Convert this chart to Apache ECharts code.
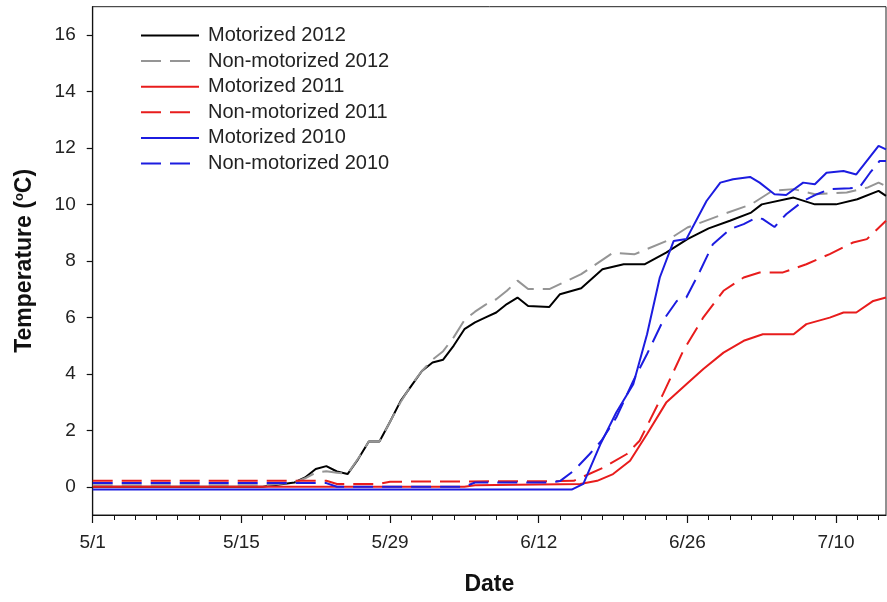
<!DOCTYPE html>
<html>
<head>
<meta charset="utf-8">
<script src="https://cdn.jsdelivr.net/npm/echarts@6/dist/echarts.min.js"></script>
<style>html,body{margin:0;padding:0;background:#fff}#c{width:887px;height:602px}</style>
</head>
<body>
<div id="c"></div>
<script>
// x = days since 5/1
const tickDays = [0, 14, 28, 42, 56, 70];
const tickLabels = ['5/1', '5/15', '5/29', '6/12', '6/26', '7/10'];
const minorTickDays = [0,2,4,6,8,10,12,14,16,18,20,22,24,26,28,30,32,34,36,38,40,42,44,46,48,50,52,54,56,58,60,62,64,66,68,70,72,74];
const yTicks = [0, 2, 4, 6, 8, 10, 12, 14, 16];

const m2012Days = [0,16,19,20,21,22,23,24,25,26,27,28,29,30,31,32,33,34,35,36,37,38,39,40,41,43,44,46,48,50,52,54,56,58,60,62,63,66,68,70,72,74,74.7];
const m2012Vals = [0,0,0.15,0.33,0.63,0.73,0.54,0.45,0.98,1.6,1.6,2.3,3.04,3.57,4.1,4.4,4.5,5.0,5.58,5.82,6.0,6.17,6.47,6.7,6.4,6.37,6.82,7.03,7.7,7.88,7.88,8.29,8.77,9.15,9.42,9.71,10.0,10.24,10.0,10.0,10.18,10.48,10.3];

const n2012Days = [0,16,19,20,21,22,23,24,25,26,27,28,29,30,31,32,33,34,35,36,37,38,39,40,41,43,46,49,51,54,56,59,62,64,66,68,71,73,74,74.7];
const n2012Vals = [0.05,0.05,0.15,0.3,0.5,0.55,0.5,0.45,1.0,1.6,1.6,2.3,3.0,3.6,4.1,4.5,4.8,5.3,5.9,6.2,6.45,6.64,6.94,7.3,7.0,7.0,7.53,8.29,8.23,8.7,9.18,9.6,10.0,10.48,10.54,10.36,10.42,10.6,10.77,10.65];

const m2011Days = [0,35,36,45.9,47.5,49,50.6,52.2,54,55.9,57.5,59.4,61.3,63.1,66,67.2,69.4,70.7,71.9,73.5,74.7];
const m2011Vals = [0.0,0.0,0.05,0.1,0.21,0.45,0.92,1.87,2.98,3.63,4.17,4.75,5.17,5.4,5.4,5.76,5.99,6.17,6.17,6.58,6.7];

const n2011Days = [0,22,23,27,28,44,45.3,48.1,50.3,51.5,53.7,55.6,57.5,59.4,61.3,62.8,65,67.2,69.4,71.6,72.9,74.7];
const n2011Vals = [0.21,0.21,0.1,0.1,0.18,0.2,0.21,0.68,1.16,1.63,3.28,4.81,6.0,6.94,7.41,7.59,7.59,7.88,8.24,8.65,8.77,9.42];

const m2010Days = [0,45.1,46.2,47.8,49.3,50.9,52.2,53.4,54.7,55.9,57.8,59.1,60.3,61.9,62.8,64.2,65.3,66.9,68,69.1,70.7,71.9,74,74.7];
const m2010Vals = [-0.1,-0.1,0.1,1.5,2.63,3.63,5.4,7.41,8.7,8.77,10.12,10.77,10.89,10.97,10.77,10.36,10.33,10.77,10.71,11.12,11.18,11.06,12.07,11.95];

const n2010Days = [0,22,23,35,36,43,44,45.3,46.8,47.9,49.3,50.9,52.2,53.7,55,55.9,57.2,58.4,60,61.3,62.5,63.1,64.2,65.3,66.9,68.2,69.4,71.3,72.2,73.2,74.1,74.7];
const n2010Vals = [0.13,0.13,0.0,0.0,0.15,0.15,0.2,0.57,1.16,1.63,2.45,3.75,4.7,5.88,6.58,6.7,7.65,8.59,9.12,9.3,9.53,9.48,9.2,9.65,10.12,10.36,10.54,10.57,10.6,11.12,11.54,11.54];

const seriesNames = ['Motorized 2012','Non-motorized 2012','Motorized 2011','Non-motorized 2011','Motorized 2010','Non-motorized 2010'];
const seriesDays = [m2012Days, n2012Days, m2011Days, n2011Days, m2010Days, n2010Days];
const seriesVals = [m2012Vals, n2012Vals, m2011Vals, n2011Vals, m2010Vals, n2010Vals];
const seriesColors = ['#000000', '#959595', '#e81c1c', '#e81c1c', '#1c1ce0', '#1c1ce0'];
const seriesDashed = [false, true, false, true, false, true];

const FONT = 'Liberation Sans, Arial, sans-serif';
const chart = echarts.init(document.getElementById('c'), null, {renderer: 'canvas'});

const series = seriesNames.map((name, i) => ({
  name: name,
  type: 'line',
  xAxisIndex: 0,
  symbol: 'none',
  animation: false,
  lineStyle: {color: seriesColors[i], width: 2, type: seriesDashed[i] ? [20, 9] : 'solid'},
  itemStyle: {color: seriesColors[i]},
  data: seriesDays[i].map((d, j) => [d, seriesVals[i][j]])
}));

chart.setOption({
  animation: false,
  backgroundColor: '#fff',
  grid: {left: 92.7, right: 1, top: 6.7, bottom: 87, show: true, borderColor: '#222', borderWidth: 1, backgroundColor: 'transparent'},
  legend: {
    left: 135, top: 20.5, orient: 'vertical',
    itemWidth: 58, itemHeight: 14, itemGap: 5.6,
    itemStyle: {opacity: 0, color: 'rgba(0,0,0,0)', borderWidth: 0},
    textStyle: {fontFamily: FONT, fontSize: 20, color: '#222', lineHeight: 20, padding: [0, 0, 0, 4]},
    data: seriesNames
  },
  xAxis: [{
    type: 'value', min: 0, max: 74.7, position: 'bottom',
    axisLine: {onZero: false, lineStyle: {color: '#111', width: 1.2}},
    axisTick: {show: true, inside: false, length: 8, customValues: tickDays, lineStyle: {color: '#111', width: 1.2}},
    axisLabel: {customValues: tickDays, margin: 18, fontFamily: FONT, fontSize: 19, color: '#222',
      formatter: v => { const k = tickDays.indexOf(Math.round(v)); return k >= 0 ? tickLabels[k] : ''; }},
    splitLine: {show: false},
    name: 'Date', nameLocation: 'middle', nameGap: 58,
    nameTextStyle: {fontFamily: FONT, fontSize: 23, fontWeight: 'bold', color: '#111'}
  }, {
    type: 'value', min: 0, max: 74.7, position: 'bottom', offset: 0,
    axisLine: {show: false, onZero: false},
    axisTick: {show: true, inside: false, length: 5, customValues: minorTickDays, lineStyle: {color: '#111', width: 1}},
    axisLabel: {show: false},
    splitLine: {show: false}
  }],
  yAxis: {
    type: 'value', min: -1, max: 17,
    axisLine: {show: true, onZero: false, lineStyle: {color: '#111', width: 1.2}},
    axisTick: {show: true, inside: false, length: 6, customValues: yTicks, lineStyle: {color: '#111', width: 1.2}},
    axisLabel: {customValues: yTicks, margin: 17, fontFamily: FONT, fontSize: 19, color: '#222'},
    splitLine: {show: false},
    name: 'Temperature ({sup|o}C)', nameLocation: 'middle', nameGap: 57,
    nameTextStyle: {fontFamily: FONT, fontSize: 23, fontWeight: 'bold', color: '#111',
      rich: {sup: {fontFamily: FONT, fontSize: 13, fontWeight: 'bold', color: '#111', padding: [0, 0, 10, 0]}}}
  },
  series: series
});
</script>
</body>
</html>
